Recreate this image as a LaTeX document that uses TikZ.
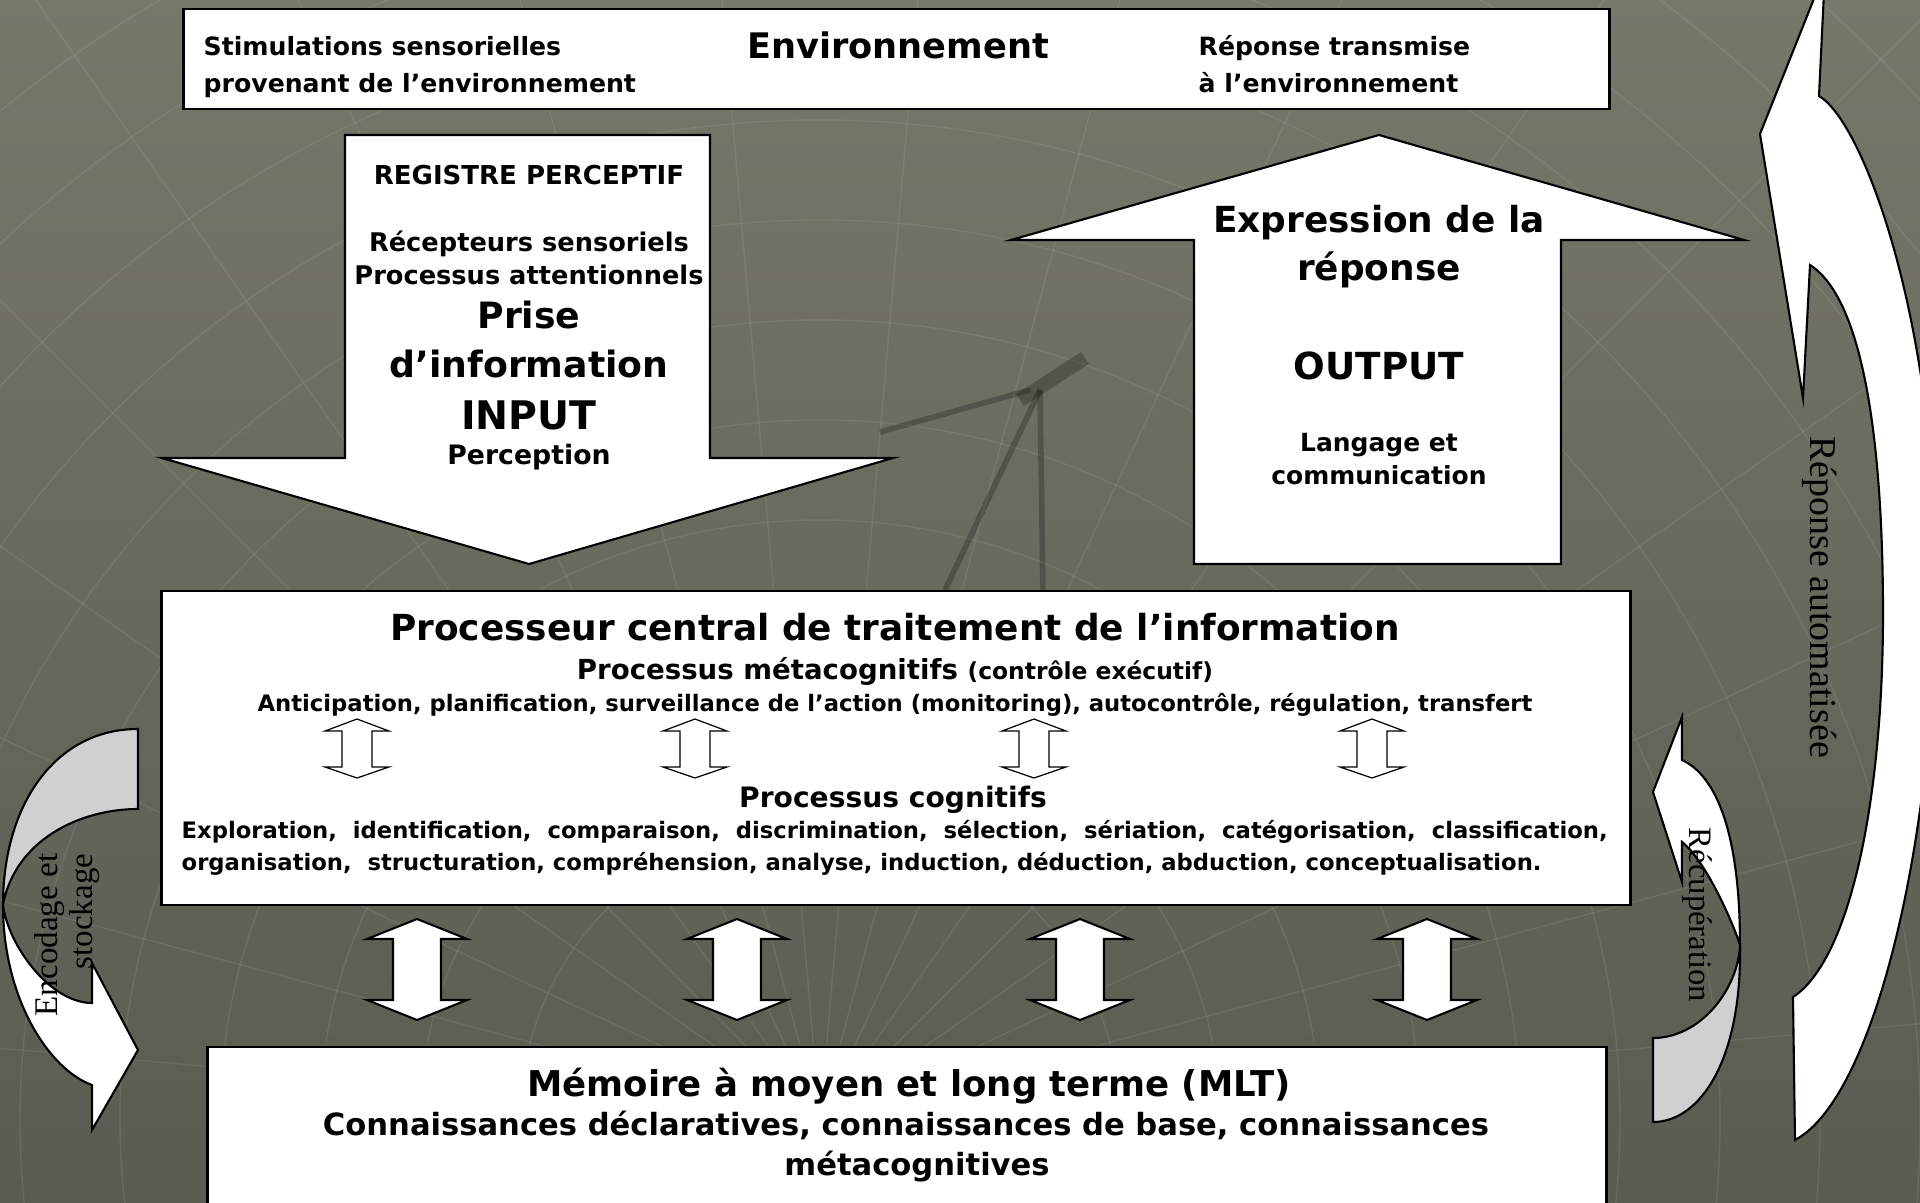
\documentclass[tikz,border=0pt]{standalone}
\usepackage{fontspec}
\setmainfont{DejaVu Sans}
\newfontfamily\timesfont{Liberation Serif}
\usetikzlibrary{positioning}
\definecolor{bgtop}{RGB}{118,120,106}
\definecolor{bgbot}{RGB}{90,91,81}
\definecolor{bandgray}{RGB}{208,208,208}
\newcommand{\fsz}[1]{\bfseries\fontsize{#1pt}{#1pt}\selectfont}
\tikzstyle{whitebox}=[draw=black,fill=white,line width=0.7pt,inner sep=0pt]
\tikzstyle{blockarrow}=[draw=black,fill=white,line width=0.6pt,line join=miter]
\tikzstyle{smallarrow}=[draw=black,fill=white,line width=0.35pt,line join=miter]
\tikzstyle{bandback}=[draw=black,fill=bandgray,line width=0.6pt]
\tikzstyle{lbl}=[inner sep=0pt,anchor=base]
\tikzstyle{lblw}=[inner sep=0pt,anchor=base west]
\tikzstyle{rotlbl}=[inner sep=0pt]

\begin{document}
\begin{tikzpicture}[x=0.01cm,y=-0.01cm]
	\useasboundingbox (0,0) rectangle (1920,1203);
	\clip (0,0) rectangle (1920,1203);
	\shade[top color=bgtop,bottom color=bgbot] (0,0) rectangle (1920,1203);
	
	% globe in the background
	\begin{scope}[draw=white,opacity=0.08,line width=0.4pt]
	\foreach \r in {300,400,...,1500}
		\draw (820,1120) circle [radius=\r*0.01cm];
	\foreach \a in {185,195,...,355}
		\draw (820,1120) -- +(\a:1700);
	\end{scope}
	\begin{scope}[draw=black!75!bgbot,opacity=0.3,line width=1.6pt]
	\draw (1040,390) -- (945,590);
	\draw (1040,390) -- (1043,590);
	\draw (1030,390) -- (880,432);
	\draw[line width=4pt] (1020,400) -- (1085,358);
	\end{scope}
	
	% environnement
	\node[whitebox,minimum width=14.25cm,minimum height=1cm] (env) at (896.5,59) {};
	\node[lblw,font=\fsz{7.15}] (stim1) at (203,55) {Stimulations sensorielles};
	\node[lblw,font=\fsz{7.15}] (stim2) at (203,92) {provenant de l’environnement};
	\node[lbl,font=\fsz{10}] (envtitle) at (898,58) {Environnement};
	\node[lblw,font=\fsz{7.15}] (rep1) at (1198,55) {Réponse transmise};
	\node[lblw,font=\fsz{7.15}] (rep2) at (1198,92) {à l’environnement};
	
	% input
	\draw[blockarrow] (345,135) -- (710,135) -- (710,458) -- (893,458) -- (529,564) -- (162,458) -- (345,458) -- cycle;
	\node[lbl,font=\fsz{7.4}] (reg) at (529,184) {REGISTRE PERCEPTIF};
	\node[lbl,font=\fsz{7.3}] (recep) at (529,251) {Récepteurs sensoriels};
	\node[lbl,font=\fsz{7.3}] (attn) at (529,284) {Processus attentionnels};
	\node[lbl,font=\fsz{10.3}] (prise) at (529,328) {Prise};
	\node[lbl,font=\fsz{10.3}] (info) at (529,377) {d’information};
	\node[lbl,font=\fsz{11.2}] (inp) at (529,429) {INPUT};
	\node[lbl,font=\fsz{7.6}] (percep) at (529,464) {Perception};
	
	% output
	\draw[blockarrow] (1379,135) -- (1744,240) -- (1561,240) -- (1561,564) -- (1194,564) -- (1194,240) -- (1011,240) -- cycle;
	\node[lbl,font=\fsz{10.2}] (expr) at (1379,232) {Expression de la};
	\node[lbl,font=\fsz{10.2}] (repo) at (1379,280) {réponse};
	\node[lbl,font=\fsz{10.6}] (outp) at (1379,379) {OUTPUT};
	\node[lbl,font=\fsz{7.1}] (lang) at (1379,451) {Langage et};
	\node[lbl,font=\fsz{7.1}] (comm) at (1379,484) {communication};
	
	% processeur central
	\node[whitebox,minimum width=14.68cm,minimum height=3.14cm] (proc) at (896,748) {};
	\node[lbl,font=\fsz{10.2}] (proctitle) at (895,640) {Processeur central de traitement de l’information};
	\node[lbl,font=\fsz{7.85}] (meta) at (895,679) {Processus métacognitifs {\fsz{6.65}(contrôle exécutif)}};
	\node[lbl,font=\fsz{6.45}] (antic) at (895,711) {Anticipation, planification, surveillance de l’action (monitoring), autocontrôle, régulation, transfert};
	\foreach \xa in {357,695,1034,1372}
		\draw[smallarrow] (\xa,719) -- (\xa+32,731) -- (\xa+15,731) -- (\xa+15,767) -- (\xa+32,767) -- (\xa,778)
			-- (\xa-32,767) -- (\xa-15,767) -- (\xa-15,731) -- (\xa-32,731) -- cycle;
	\node[lbl,font=\fsz{8}] (cog) at (893,807) {Processus cognitifs};
	\node[lblw,font=\fsz{6.45}] (explo1) at (181,838) {\makebox[14.25cm][s]{Exploration, identification, comparaison, discrimination, sélection, sériation, catégorisation, classification,}};
	\node[lblw,font=\fsz{6.45}] (explo2) at (181,870) {organisation,\ \ structuration, compréhension, analyse, induction, déduction, abduction, conceptualisation.};
	
	% liens processeur - memoire
	\foreach \xa in {417,737,1080,1427}
		\draw[blockarrow] (\xa,919) -- (\xa+50,939) -- (\xa+24,939) -- (\xa+24,1000) -- (\xa+50,1000) -- (\xa,1020)
			-- (\xa-50,1000) -- (\xa-24,1000) -- (\xa-24,939) -- (\xa-50,939) -- cycle;
	
	% memoire
	\node[whitebox,minimum width=13.98cm,minimum height=1.93cm] (mlt) at (907,1143.5) {};
	\node[lbl,font=\fsz{10.1}] (mlttitle) at (909,1096) {Mémoire à moyen et long terme (MLT)};
	\node[lbl,font=\fsz{8.7}] (conn1) at (906,1135) {Connaissances déclaratives, connaissances de base, connaissances};
	\node[lbl,font=\fsz{8.7}] (conn2) at (917,1175) {métacognitives};
	
	% encodage et stockage
	\draw[bandback] (138,729) .. controls (55,729) and (3,805) .. (3,905) .. controls (15,840) and (80,809) .. (138,809) -- cycle;
	\draw[blockarrow] (3,905) .. controls (3,1000) and (50,1070) .. (92,1085) -- (92,1130) -- (138,1050) -- (92,963) -- (92,1003) .. controls (50,1003) and (8,945) .. (3,905) -- cycle;
	\node[rotlbl,rotate=90,align=right,font=\timesfont\fontsize{9.4pt}{10pt}\selectfont] (encod) at (67,935) {Encodage et\\stockage};
	
	% recuperation
	\draw[bandback] (1653,1038) .. controls (1700,1038) and (1738,990) .. (1740,945) .. controls (1742,1060) and (1700,1122) .. (1653,1122) -- cycle;
	\draw[blockarrow] (1740,945) .. controls (1740,830) and (1715,775) .. (1682,760) -- (1682,717) -- (1653,792) -- (1682,882) -- (1682,842) .. controls (1705,860) and (1732,920) .. (1740,945) -- cycle;
	\node[rotlbl,rotate=-90,font=\timesfont\fontsize{9.3pt}{10pt}\selectfont] (recup) at (1697,915) {Récupération};
	
	% reponse automatisee
	\draw[blockarrow] (1810,265) -- (1803,398) -- (1760,134) -- (1825,-29) -- (1819,96) .. controls (1860,120) and (1925,290) .. (1935,520) .. controls (1945,800) and (1880,1095) .. (1795,1140) -- (1793,997) .. controls (1850,960) and (1883,800) .. (1883,614) .. controls (1883,450) and (1865,300) .. (1810,265) -- cycle;
	\node[rotlbl,rotate=-90,font=\timesfont\fontsize{10.8pt}{12pt}\selectfont] (auto) at (1820,597) {Réponse automatisée};
\end{tikzpicture}
\end{document}
